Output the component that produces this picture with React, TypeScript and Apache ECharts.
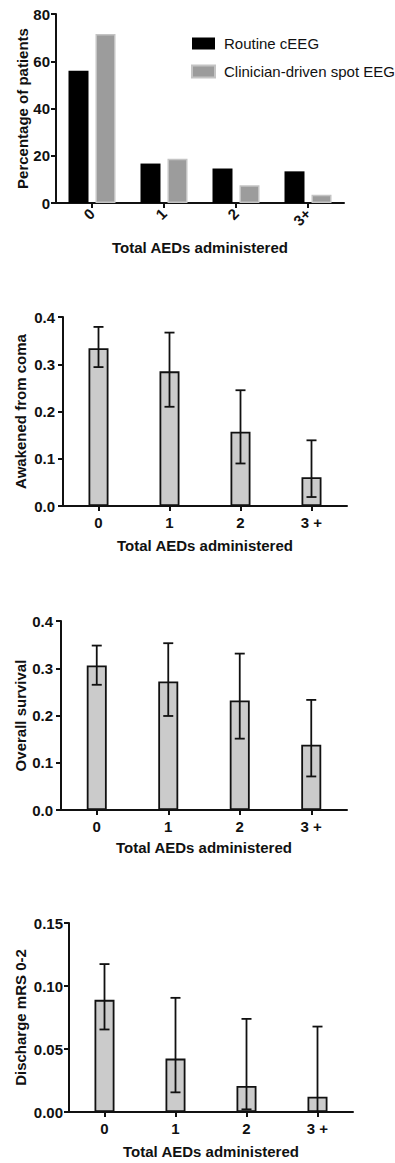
import React, { useEffect, useRef } from "react";
import * as echarts from "echarts";

const categories = ["0", "1", "2", "3 +"];
const categoriesTop = ["0", "1", "2", "3+"];

const routineCEEG = [56, 16.7, 14.6, 13.4];
const spotEEG = [71.5, 18.7, 7.5, 3.5];

const awakened = [0.334, 0.285, 0.157, 0.061];
const awakenedLow = [0.294, 0.21, 0.09, 0.019];
const awakenedHigh = [0.379, 0.367, 0.245, 0.139];

const survival = [0.306, 0.272, 0.232, 0.138];
const survivalLow = [0.265, 0.199, 0.151, 0.071];
const survivalHigh = [0.348, 0.353, 0.331, 0.233];

const mrs = [0.089, 0.0424, 0.0207, 0.0122];
const mrsLow = [0.0655, 0.0156, 0.0021, 0];
const mrsHigh = [0.1174, 0.0906, 0.0739, 0.0678];

const FONT = "Liberation Sans, Arial, sans-serif";
const INK = "#111";

function errData(low: number[], high: number[]) {
  return low.map((l, i) => [i, l, high[i]]);
}

function errSeries(idx: number, low: number[], high: number[]) {
  return {
    type: "custom",
    xAxisIndex: idx,
    yAxisIndex: idx,
    z: 5,
    encode: { x: 0, y: [1, 2] },
    data: errData(low, high),
    renderItem: (params: any, api: any) => {
      const x = api.value(0);
      const lo = api.coord([x, api.value(1)]);
      const hi = api.coord([x, api.value(2)]);
      const hw = 5;
      const style = { stroke: INK, lineWidth: 1.8, fill: "none" };
      return {
        type: "group",
        children: [
          { type: "line", shape: { x1: lo[0], y1: lo[1], x2: hi[0], y2: hi[1] }, style },
          { type: "line", shape: { x1: hi[0] - hw, y1: hi[1], x2: hi[0] + hw, y2: hi[1] }, style },
          { type: "line", shape: { x1: lo[0] - hw, y1: lo[1], x2: lo[0] + hw, y2: lo[1] }, style },
        ],
      };
    },
  };
}

function xAxisFor(idx: number, cats: string[], nameGap: number, rotate = 0) {
  return {
    type: "category",
    gridIndex: idx,
    data: cats,
    boundaryGap: true,
    name: "Total AEDs administered",
    nameLocation: "middle",
    nameGap,
    nameMoveOverlap: false,
    nameTextStyle: { fontFamily: FONT, fontWeight: "bold", fontSize: 15, color: INK },
    axisLine: { show: true, lineStyle: { color: INK, width: 2 } },
    axisTick: { show: true, alignWithLabel: true, length: 5, lineStyle: { color: INK, width: 2 } },
    axisLabel: {
      fontFamily: FONT,
      fontWeight: "bold",
      fontSize: 15,
      color: INK,
      margin: rotate ? 8 : 9,
      rotate,
    },
    splitLine: { show: false },
  };
}

function yAxisFor(
  idx: number,
  name: string,
  max: number,
  interval: number,
  digits: number,
  nameGap: number,
  labelMargin: number
) {
  return {
    type: "value",
    gridIndex: idx,
    min: 0,
    max,
    interval,
    name,
    nameLocation: "middle",
    nameGap,
    nameMoveOverlap: false,
    nameTextStyle: { fontFamily: FONT, fontWeight: "bold", fontSize: 15, color: INK },
    axisLine: { show: true, lineStyle: { color: INK, width: 2 } },
    axisTick: { show: true, length: 5, lineStyle: { color: INK, width: 2 } },
    axisLabel: {
      fontFamily: FONT,
      fontWeight: "bold",
      fontSize: 15,
      color: INK,
      margin: labelMargin,
      formatter: (v: number) => v.toFixed(digits),
    },
    splitLine: { show: false },
  };
}

function barSeries(idx: number, data: number[]) {
  return {
    type: "bar",
    xAxisIndex: idx,
    yAxisIndex: idx,
    data,
    barWidth: 20,
    itemStyle: { color: "#cbcbcb", borderColor: INK, borderWidth: 1.8 },
  };
}

export default function App() {
  const ref = useRef<HTMLDivElement>(null);

  useEffect(() => {
    if (!ref.current) return;
    const chart = echarts.init(ref.current, undefined, { renderer: "svg" });
    chart.setOption({
      animation: false,
      backgroundColor: "#fff",
      textStyle: { fontFamily: FONT },
      legend: {
        orient: "vertical",
        left: 186,
        top: 31,
        itemWidth: 23,
        itemHeight: 12,
        itemGap: 13,
        icon: "rect",
        textStyle: { fontFamily: FONT, fontSize: 15, color: INK, padding: [0, 0, 0, 4] },
        data: ["Routine cEEG", "Clinician-driven spot EEG"],
      },
      grid: [
        { left: 56, top: 14, width: 288, height: 189 },
        { left: 63, top: 317, width: 284, height: 189 },
        { left: 61, top: 621, width: 286, height: 189 },
        { left: 69, top: 923, width: 284, height: 189 },
      ],
      xAxis: [
        xAxisFor(0, categoriesTop, 37, 45),
        xAxisFor(1, categories, 32),
        xAxisFor(2, categories, 30),
        xAxisFor(3, categories, 32),
      ],
      yAxis: [
        yAxisFor(0, "Percentage of patients", 80, 20, 0, 26, 6),
        yAxisFor(1, "Awakened from coma", 0.4, 0.1, 1, 35, 8),
        yAxisFor(2, "Overall survival", 0.4, 0.1, 1, 33, 8),
        yAxisFor(3, "Discharge mRS 0-2", 0.15, 0.05, 2, 41, 6),
      ],
      series: [
        {
          name: "Routine cEEG",
          type: "bar",
          xAxisIndex: 0,
          yAxisIndex: 0,
          data: routineCEEG,
          barWidth: 20,
          barGap: "35%",
          itemStyle: { color: "#000" },
        },
        {
          name: "Clinician-driven spot EEG",
          type: "bar",
          xAxisIndex: 0,
          yAxisIndex: 0,
          data: spotEEG,
          barWidth: 20,
          barGap: "35%",
          itemStyle: { color: "#9c9c9c", borderColor: "#c4c4c4", borderWidth: 1.5 },
        },
        barSeries(1, awakened),
        errSeries(1, awakenedLow, awakenedHigh),
        barSeries(2, survival),
        errSeries(2, survivalLow, survivalHigh),
        barSeries(3, mrs),
        errSeries(3, mrsLow, mrsHigh),
      ],
    });
    return () => chart.dispose();
  }, []);

  return (
    <div
      ref={ref}
      style={{ position: "absolute", left: 0, top: 0, width: 395, height: 1163, background: "#fff" }}
    />
  );
}
